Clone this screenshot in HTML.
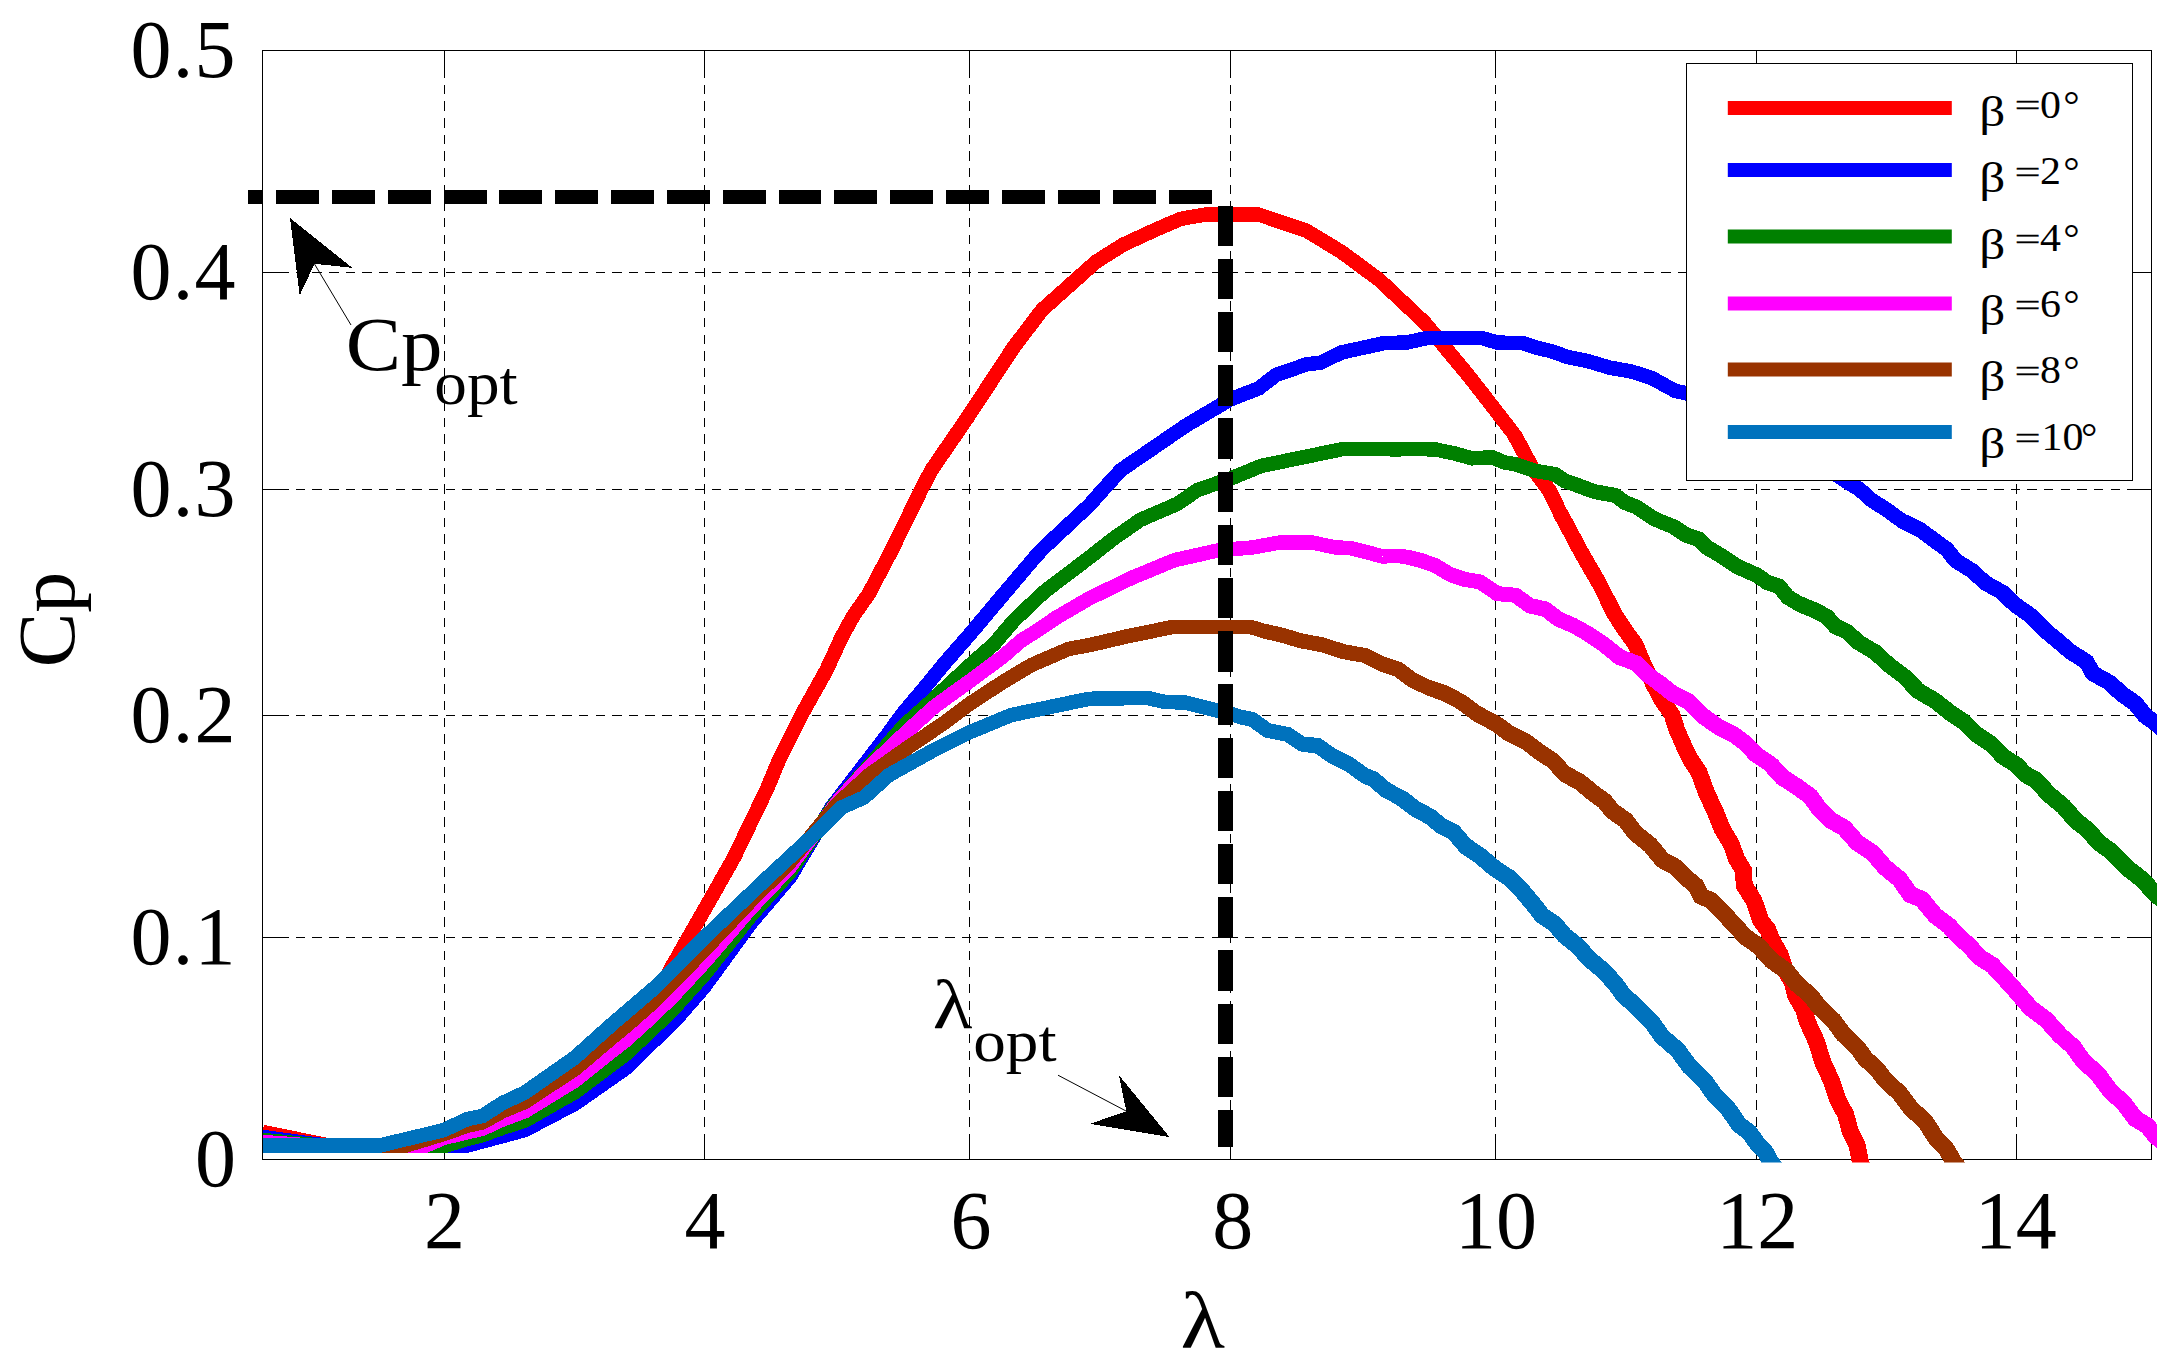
<!DOCTYPE html>
<html lang="en"><head><meta charset="utf-8"><title>Cp - lambda curves</title>
<style>html,body{margin:0;padding:0;background:#fff}svg{display:block}text{font-family:"Liberation Serif","DejaVu Serif",serif;fill:#000}.ax{stroke:#000;stroke-width:1;fill:none;shape-rendering:crispEdges}.gr{stroke:#000;stroke-width:1;fill:none;stroke-dasharray:9.4 7.25;shape-rendering:crispEdges}.cv{fill:none;stroke-width:14.5;stroke-linejoin:miter;stroke-linecap:butt;shape-rendering:crispEdges}.tk{font-size:82px}.lg{font-size:39px}</style></head><body>
<svg width="2182" height="1364" viewBox="0 0 2182 1364">
<rect x="0" y="0" width="2182" height="1364" fill="#fff"/>
<defs><clipPath id="cp"><rect x="263.0" y="40" width="1894.0" height="1122.5"/></clipPath></defs>
<g class="gr">
<line x1="444.5" y1="51.5" x2="444.5" y2="1159.5"/>
<line x1="704.5" y1="51.5" x2="704.5" y2="1159.5"/>
<line x1="969.5" y1="51.5" x2="969.5" y2="1159.5"/>
<line x1="1230.5" y1="51.5" x2="1230.5" y2="1159.5"/>
<line x1="1495.5" y1="51.5" x2="1495.5" y2="1159.5"/>
<line x1="1756.5" y1="51.5" x2="1756.5" y2="1159.5"/>
<line x1="2016.5" y1="51.5" x2="2016.5" y2="1159.5"/>
<line x1="262.5" y1="272.5" x2="2151.5" y2="272.5"/>
<line x1="262.5" y1="489.5" x2="2151.5" y2="489.5"/>
<line x1="262.5" y1="715.5" x2="2151.5" y2="715.5"/>
<line x1="262.5" y1="937.5" x2="2151.5" y2="937.5"/>
</g>
<g class="ax">
<rect x="262.5" y="50.5" width="1889.0" height="1109.0"/>
<line x1="444.5" y1="1159.5" x2="444.5" y2="1137.5"/>
<line x1="444.5" y1="50.5" x2="444.5" y2="68.5"/>
<line x1="704.5" y1="1159.5" x2="704.5" y2="1137.5"/>
<line x1="704.5" y1="50.5" x2="704.5" y2="68.5"/>
<line x1="969.5" y1="1159.5" x2="969.5" y2="1137.5"/>
<line x1="969.5" y1="50.5" x2="969.5" y2="68.5"/>
<line x1="1230.5" y1="1159.5" x2="1230.5" y2="1137.5"/>
<line x1="1230.5" y1="50.5" x2="1230.5" y2="68.5"/>
<line x1="1495.5" y1="1159.5" x2="1495.5" y2="1137.5"/>
<line x1="1495.5" y1="50.5" x2="1495.5" y2="68.5"/>
<line x1="1756.5" y1="1159.5" x2="1756.5" y2="1137.5"/>
<line x1="1756.5" y1="50.5" x2="1756.5" y2="68.5"/>
<line x1="2016.5" y1="1159.5" x2="2016.5" y2="1137.5"/>
<line x1="2016.5" y1="50.5" x2="2016.5" y2="68.5"/>
<line x1="262.5" y1="272.5" x2="282.5" y2="272.5"/>
<line x1="2151.5" y1="272.5" x2="2131.5" y2="272.5"/>
<line x1="262.5" y1="489.5" x2="282.5" y2="489.5"/>
<line x1="2151.5" y1="489.5" x2="2131.5" y2="489.5"/>
<line x1="262.5" y1="715.5" x2="282.5" y2="715.5"/>
<line x1="2151.5" y1="715.5" x2="2131.5" y2="715.5"/>
<line x1="262.5" y1="937.5" x2="282.5" y2="937.5"/>
<line x1="2151.5" y1="937.5" x2="2131.5" y2="937.5"/>
</g>
<g clip-path="url(#cp)" class="cv">
<g stroke="#ff0000">
<path stroke-width="14.5" d="M262.5 1132.0 L278.8 1135.3 L295.0 1138.6 L311.2 1141.9 L327.5 1145.2 L347.5 1145.2 L367.5 1145.1 L387.5 1145.1 L407.5 1145.1 L427.5 1145.1 L447.5 1145.0 L467.5 1145.0 L486.7 1139.7 L505.8 1134.3 L525.0 1129.0 L541.7 1119.3 L558.3 1109.7 L575.0 1100.0 L587.5 1089.0 L600.0 1078.0 L612.5 1064.0 L625.0 1050.0 L633.3 1036.0 L641.7 1022.0 L650.0 1008.0 L660.0 989.0 L670.0 970.0 L678.6 955.0 L687.1 940.0 L695.7 925.0 L704.2 910.0 L714.2 892.5 L724.1 875.0 L734.0 857.5 L741.5 841.9 L749.0 826.3 L756.5 810.8 L761.5 800.4 L766.5 790.0 L772.8 775.0 L779.0 760.0 L786.5 745.0 L794.0 730.0 L801.5 715.0 L809.8 700.0 L818.2 685.0 L826.5 670.0 L833.9 654.0 L841.2 638.0 L847.2 627.0 L853.3 616.0 L861.0 605.0 L868.7 594.0 L876.4 579.3 L884.1 564.7 L891.8 550.0 L899.2 534.8 L906.6 519.6 L914.1 504.4 L921.5 489.2 L931.5 470.0 L943.5 452.5 L955.5 435.0 L967.5 417.5 L979.0 400.0 L990.5 382.5 L1002.0 365.0 L1013.5 347.5 L1023.0 335.0 L1032.5 322.5 L1042.0 310.0 L1055.5 297.9 L1069.0 285.9 L1082.5 273.8 L1096.0 261.8 L1109.8 253.1 L1123.5 244.5 L1139.8 237.0 L1156.0 229.5 L1168.5 224.1 L1181.0 218.8 L1193.5 216.6 L1206.0 214.5 L1223.5 214.5 L1241.0 214.5 L1258.5 214.5 L1274.3 219.8 L1290.2 225.2 L1306.0 230.5 L1323.8 241.2 L1341.5 252.0 L1354.2 261.3 L1366.8 270.7 L1379.5 280.0 L1394.5 294.2 L1409.5 308.3 L1424.5 322.5 L1435.4 335.6 L1446.2 348.8 L1457.1 361.9 L1468.0 375.0 L1477.1 386.7 L1486.2 398.3 L1495.2 410.0 L1504.9 422.5 L1514.5 435.0 L1523.2 451.2 L1532.0 467.5"/>
<path stroke-width="15.0" d="M1514.5 435.0 L1523.2 451.2 L1532.0 467.5 L1540.8 479.1 L1549.5 490.8 L1554.8 501.6 L1560.0 512.5 L1570.0 531.2 L1580.0 550.0"/>
<path stroke-width="15.5" d="M1560.0 512.5 L1570.0 531.2 L1580.0 550.0 L1590.0 567.5 L1600.1 585.0 L1607.4 600.0 L1615.1 614.9 L1625.1 630.1"/>
<path stroke-width="16.0" d="M1607.4 600.0 L1615.1 614.9 L1625.1 630.1 L1635.7 644.9 L1643.5 663.8 L1652.4 682.3 L1661.4 699.0 L1672.0 714.8"/>
<path stroke-width="16.5" d="M1652.4 682.3 L1661.4 699.0 L1672.0 714.8 L1677.0 730.1 L1683.4 744.8 L1690.2 759.1 L1699.0 772.3 L1706.4 792.6"/>
<path stroke-width="17.0" d="M1690.2 759.1 L1699.0 772.3 L1706.4 792.6 L1715.5 812.3 L1722.2 829.1 L1731.6 844.7 L1736.2 858.4 L1743.6 870.8 L1744.2 885.3 L1753.9 900.6 L1760.7 920.4 L1767.8 929.7 L1772.0 940.5 L1780.2 954.7 L1785.1 970.4 L1792.1 981.5 L1795.8 995.9 L1803.3 1008.7 L1807.8 1022.8 L1816.7 1042.2 L1822.9 1062.7 L1831.6 1081.0 L1837.9 1100.2 L1845.7 1114.6 L1849.9 1130.4 L1857.0 1145.2 L1860.2 1161.2 L1865.3 1174.3"/>
</g>
<g stroke="#0000ff">
<path stroke-width="14.5" d="M262.5 1137.0 L283.3 1139.8 L304.2 1142.7 L325.0 1145.5 L345.4 1145.5 L365.7 1145.5 L386.1 1145.5 L406.4 1145.5 L426.8 1145.5 L447.1 1145.5 L467.5 1145.5 L486.7 1140.3 L505.8 1135.2 L525.0 1130.0 L541.7 1121.2 L558.3 1112.5 L575.0 1103.8 L591.7 1092.1 L608.3 1080.4 L625.0 1068.8 L637.5 1056.7 L650.0 1044.6 L662.5 1032.6 L675.0 1020.5 L684.8 1009.3 L694.5 998.2 L704.2 987.0 L715.7 971.2 L727.1 955.5 L738.6 939.8 L750.0 924.0 L763.3 908.3 L776.7 892.7 L790.0 877.0 L800.4 859.6 L810.8 842.2 L821.1 824.9 L831.5 807.5 L844.0 791.2 L856.5 775.0 L866.5 762.0 L876.5 749.0 L886.5 736.0 L895.2 724.0 L904.0 712.0 L915.0 699.0 L926.0 686.0 L935.0 675.0 L944.0 664.0 L956.6 649.5 L969.3 635.0 L979.8 622.5 L990.3 610.0 L1000.8 597.5 L1012.5 583.7 L1024.3 569.8 L1036.0 556.0 L1044.0 547.5 L1059.2 533.3 L1074.3 519.2 L1089.5 505.0 L1102.0 490.8 L1111.5 480.4 L1121.0 470.0 L1137.2 458.9 L1153.5 447.8 L1169.8 436.6 L1186.0 425.5 L1200.7 416.8 L1215.3 408.2 L1230.0 399.5 L1244.2 394.0 L1258.5 388.5 L1267.2 381.8 L1276.0 375.0 L1291.0 369.8 L1306.0 364.5 L1321.0 362.5 L1331.2 357.5 L1341.5 352.5 L1355.8 349.3 L1370.2 346.2 L1384.5 343.0 L1395.8 342.8 L1407.0 342.5 L1427.0 338.0 L1445.3 338.0 L1463.7 338.0 L1482.0 338.1 L1497.0 342.4 L1509.5 343.0 L1522.0 342.8 L1536.9 347.7 L1552.1 351.4 L1566.8 356.8 L1588.3 361.2 L1609.3 367.6 L1631.0 371.4 L1651.8 378.0 L1665.0 385.3 L1675.2 390.9 L1686.8 393.2 L1704.3 404.4 L1723.7 411.9 L1741.2 423.3 L1760.3 431.4 L1776.7 442.5 L1794.9 450.3"/>
<path stroke-width="15.0" d="M1760.3 431.4 L1776.7 442.5 L1794.9 450.3 L1811.2 461.5 L1829.3 469.5 L1845.5 480.8 L1859.7 489.5 L1872.2 500.6 L1886.3 509.5 L1902.1 521.0 L1919.7 529.4 L1935.3 541.0"/>
<path stroke-width="15.5" d="M1902.1 521.0 L1919.7 529.4 L1935.3 541.0 L1946.7 549.3 L1955.6 560.5 L1971.6 570.5 L1985.6 583.0 L2001.8 592.1 L2015.2 604.7 L2031.5 616.3"/>
<path stroke-width="16.0" d="M2001.8 592.1 L2015.2 604.7 L2031.5 616.3 L2045.4 630.7 L2056.4 639.6 L2070.6 651.8 L2086.6 661.9 L2092.8 673.3 L2109.0 682.4 L2122.8 694.6 L2135.4 703.4"/>
<path stroke-width="16.5" d="M2109.0 682.4 L2122.8 694.6 L2135.4 703.4 L2144.9 715.5 L2157.5 724.5 L2167.2 734.5"/>
</g>
<g stroke="#008000">
<path stroke-width="14.5" d="M262.5 1140.0 L281.7 1141.8 L300.8 1143.7 L320.0 1145.5 L341.0 1145.5 L362.0 1145.5 L383.0 1145.5 L404.0 1145.5 L425.0 1145.5 L446.0 1145.5 L456.8 1142.2 L467.5 1138.9 L482.5 1135.1 L502.5 1127.8 L513.8 1124.2 L525.0 1120.6 L541.7 1111.1 L558.3 1101.7 L575.0 1092.2 L587.5 1082.8 L600.0 1073.4 L612.5 1064.1 L625.0 1054.8 L640.0 1040.8 L655.0 1026.7 L665.0 1017.0 L675.0 1007.2 L689.5 991.1 L704.0 975.0 L715.5 960.4 L727.0 945.8 L738.5 931.2 L750.0 916.6 L763.3 901.7 L776.7 886.8 L790.0 872.0 L801.0 855.2 L812.0 838.5 L823.0 821.7 L834.0 805.0 L845.7 792.0 L857.3 779.0 L869.0 766.0 L880.7 752.5 L892.3 739.0 L904.0 725.5 L917.8 713.2 L931.5 701.0 L944.0 689.3 L956.5 677.7 L969.0 666.0 L981.5 655.0 L994.0 644.0 L1004.0 632.2 L1014.0 620.5 L1029.0 606.2 L1044.0 592.0 L1059.3 580.3 L1074.7 568.7 L1090.0 557.0 L1102.5 547.2 L1115.0 537.5 L1127.5 528.8 L1140.0 520.0 L1158.8 511.9 L1177.5 503.8 L1187.5 496.9 L1197.5 490.0 L1213.8 484.4 L1230.0 478.8 L1245.5 472.4 L1261.0 466.0 L1281.2 461.8 L1301.5 457.6 L1321.8 453.4 L1342.0 449.2 L1360.8 449.2 L1379.5 449.2 L1398.2 449.3 L1417.0 449.0 L1435.7 449.5 L1454.0 453.3 L1472.0 458.3 L1492.1 457.3 L1504.3 462.3 L1517.2 464.8 L1535.6 471.0 L1554.8 474.2 L1564.2 480.6 L1574.7 484.3"/>
<path stroke-width="15.0" d="M1554.8 474.2 L1564.2 480.6 L1574.7 484.3 L1594.5 491.6 L1615.2 495.4 L1625.1 502.6 L1636.5 507.0 L1654.2 518.8 L1673.8 526.9 L1685.5 534.8 L1699.0 539.2"/>
<path stroke-width="15.5" d="M1673.8 526.9 L1685.5 534.8 L1699.0 539.2 L1708.0 548.1 L1718.9 554.4 L1737.1 566.4 L1757.0 575.3 L1767.2 582.4 L1779.2 586.5 L1787.8 597.1 L1799.1 603.9 L1815.7 610.8 L1826.6 616.7"/>
<path stroke-width="16.0" d="M1799.1 603.9 L1815.7 610.8 L1826.6 616.7 L1835.3 626.0 L1847.7 632.1 L1857.5 641.7 L1874.8 652.0 L1889.6 665.5 L1904.9 676.8 L1917.9 690.7 L1935.1 700.8"/>
<path stroke-width="16.5" d="M1904.9 676.8 L1917.9 690.7 L1935.1 700.8 L1950.6 713.1 L1964.9 722.6 L1977.1 734.8 L1991.5 744.4 L2002.8 756.3 L2016.7 765.1 L2025.4 774.3 L2036.4 780.5 L2048.9 794.4"/>
<path stroke-width="17.0" d="M2025.4 774.3 L2036.4 780.5 L2048.9 794.4 L2063.4 806.3 L2075.6 820.4 L2088.2 830.3 L2098.6 842.5 L2111.6 851.8 L2125.9 866.8 L2142.2 879.6 L2156.2 894.9 L2167.4 903.4"/>
</g>
<g stroke="#ff00ff">
<path stroke-width="14.5" d="M262.5 1142.0 L278.3 1143.2 L294.2 1144.3 L310.0 1145.5 L329.3 1145.5 L348.7 1145.5 L368.0 1145.5 L387.3 1145.5 L406.7 1145.5 L426.0 1145.5 L444.0 1137.8 L455.8 1135.0 L467.5 1132.2 L482.5 1128.7 L492.5 1124.1 L502.5 1119.5 L513.8 1115.4 L525.0 1111.2 L541.7 1101.0 L558.3 1090.8 L575.0 1080.6 L587.5 1070.6 L600.0 1060.6 L612.5 1050.6 L625.0 1040.9 L640.0 1027.3 L655.0 1013.6 L665.0 1003.8 L675.0 993.9 L689.5 978.3 L704.0 962.6 L715.5 949.3 L727.0 935.9 L738.5 922.5 L750.0 909.1 L763.3 895.1 L776.7 881.0 L790.0 866.9 L802.2 850.2 L814.5 833.5 L826.8 816.7 L839.0 800.0 L849.0 789.2 L859.0 778.3 L869.0 767.5 L881.5 755.7 L894.0 743.8 L906.5 732.0 L920.2 719.5 L934.0 707.0 L951.6 694.2 L969.3 681.5 L986.1 669.0 L1003.0 656.5 L1012.5 648.2 L1022.0 640.0 L1036.0 631.5 L1046.2 624.5 L1056.5 617.5 L1073.2 607.8 L1090.0 598.0 L1104.2 591.2 L1118.3 584.3 L1132.5 577.5 L1146.7 571.7 L1160.8 565.8 L1175.0 560.0 L1190.0 556.7 L1205.0 553.3 L1220.0 550.0 L1236.2 548.8 L1252.5 547.5 L1266.2 545.0 L1280.0 542.5 L1296.2 542.5 L1312.5 542.5 L1323.7 545.0 L1335.0 547.4 L1350.0 548.1 L1366.3 552.0 L1382.5 556.5 L1393.8 555.8 L1404.9 556.6 L1420.1 560.2 L1434.8 565.3"/>
<path stroke-width="15.0" d="M1404.9 556.6 L1420.1 560.2 L1434.8 565.3 L1450.2 574.5 L1464.8 579.4 L1480.2 582.0 L1497.1 593.6 L1515.4 595.2 L1529.7 605.6 L1545.4 609.2"/>
<path stroke-width="15.5" d="M1515.4 595.2 L1529.7 605.6 L1545.4 609.2 L1558.2 619.0 L1573.0 625.3 L1587.1 633.2 L1603.3 644.0 L1619.5 657.1"/>
<path stroke-width="16.0" d="M1587.1 633.2 L1603.3 644.0 L1619.5 657.1 L1636.4 663.4 L1646.9 674.2 L1659.0 682.8 L1672.8 693.7 L1688.6 701.7"/>
<path stroke-width="16.5" d="M1659.0 682.8 L1672.8 693.7 L1688.6 701.7 L1702.9 715.9 L1719.2 727.4 L1733.2 734.2 L1745.4 743.2 L1755.9 754.4 L1770.4 764.1 L1782.1 777.1 L1796.7 786.5"/>
<path stroke-width="17.0" d="M1770.4 764.1 L1782.1 777.1 L1796.7 786.5 L1810.5 796.5 L1819.4 809.2 L1830.6 820.1 L1844.3 828.0 L1856.9 842.3 L1872.7 853.0 L1885.1 867.4 L1899.5 879.2 L1910.3 894.5 L1921.7 899.2 L1935.4 915.7 L1948.9 925.8 L1960.4 938.1 L1969.1 945.6 L1979.4 957.2 L1992.5 965.4 L2003.1 976.7 L2016.7 991.9 L2030.1 1007.6 L2046.6 1020.2 L2060.4 1035.6 L2073.1 1046.7 L2082.9 1060.6 L2098.0 1074.3 L2110.2 1090.7 L2123.9 1103.4 L2135.1 1118.4 L2147.3 1125.8 L2156.2 1136.9 L2167.5 1145.3"/>
</g>
<g stroke="#993300">
<path stroke-width="14.5" d="M262.5 1145.5 L283.0 1145.5 L303.5 1145.5 L324.0 1145.5 L344.5 1145.5 L365.0 1145.5 L385.5 1145.5 L406.0 1145.5 L425.0 1139.7 L444.0 1133.9 L455.8 1129.8 L467.5 1125.6 L482.5 1122.4 L492.5 1116.8 L502.5 1111.3 L513.8 1106.6 L525.0 1101.9 L541.7 1090.9 L558.3 1080.0 L575.0 1069.1 L587.5 1058.4 L600.0 1047.8 L612.5 1037.2 L625.0 1027.0 L640.0 1013.8 L655.0 1000.6 L665.0 990.6 L675.0 980.6 L689.5 965.5 L704.0 950.3 L715.5 938.2 L727.0 926.0 L738.5 913.9 L750.0 901.7 L763.3 888.4 L776.7 875.2 L790.0 861.9 L801.6 847.7 L813.2 833.4 L824.9 819.2 L836.5 805.0 L847.3 795.0 L858.2 785.0 L869.0 775.0 L881.5 766.2 L894.0 757.3 L906.5 748.5 L919.0 740.0 L931.5 731.5 L944.0 723.0 L956.6 713.5 L969.3 704.0 L986.1 693.0 L1003.0 682.0 L1017.2 673.5 L1031.5 665.0 L1050.2 656.9 L1069.0 648.8 L1090.0 645.0 L1108.8 640.6 L1127.5 636.2 L1142.5 633.2 L1157.5 630.1 L1172.5 627.0 L1191.9 627.0 L1211.2 627.0 L1230.6 627.1 L1250.0 626.8 L1264.9 631.3 L1280.1 634.7 L1301.1 640.8"/>
<path stroke-width="15.0" d="M1264.9 631.3 L1280.1 634.7 L1301.1 640.8 L1322.7 644.9 L1343.6 651.7 L1365.2 655.5 L1381.1 663.6 L1397.9 669.2"/>
<path stroke-width="15.5" d="M1365.2 655.5 L1381.1 663.6 L1397.9 669.2 L1412.2 679.9 L1428.0 687.5 L1444.7 693.2 L1462.0 702.4"/>
<path stroke-width="16.0" d="M1428.0 687.5 L1444.7 693.2 L1462.0 702.4 L1477.7 714.3 L1495.3 723.2 L1509.5 733.7"/>
<path stroke-width="16.5" d="M1477.7 714.3 L1495.3 723.2 L1509.5 733.7 L1525.5 741.3 L1539.4 752.0 L1553.2 761.0 L1564.3 773.4 L1580.4 782.5 L1594.5 794.1"/>
<path stroke-width="17.0" d="M1564.3 773.4 L1580.4 782.5 L1594.5 794.1 L1604.5 801.2 L1612.1 810.9 L1625.4 820.1 L1635.1 832.9 L1650.1 844.9 L1662.3 859.8 L1676.2 867.5 L1687.3 878.7 L1695.8 885.8 L1701.1 895.9 L1711.7 901.0 L1722.2 911.7 L1732.9 923.2 L1745.3 936.8 L1758.7 946.3 L1771.3 960.3 L1786.8 971.2 L1797.2 984.3 L1810.0 995.0 L1820.2 1008.2 L1833.3 1020.3 L1843.7 1034.7 L1856.8 1046.8 L1865.5 1058.8 L1876.5 1068.7 L1885.5 1080.4 L1899.6 1093.2 L1911.0 1108.4 L1925.4 1121.8 L1936.0 1138.3 L1946.1 1148.8 L1953.5 1161.4 L1962.2 1172.3"/>
</g>
<g stroke="#0072bd">
<path stroke-width="14.5" d="M262.5 1145.5 L282.1 1145.5 L301.7 1145.5 L321.2 1145.5 L340.8 1145.5 L360.4 1145.5 L380.0 1145.5 L401.3 1140.3 L422.7 1135.2 L444.0 1130.0 L455.8 1124.5 L467.5 1119.0 L482.5 1116.0 L492.5 1109.5 L502.5 1103.0 L513.8 1097.8 L525.0 1092.5 L541.7 1080.8 L558.3 1069.2 L575.0 1057.5 L587.5 1046.2 L600.0 1035.0 L612.5 1023.8 L626.7 1011.7 L640.8 999.6 L655.0 987.5 L667.2 975.1 L679.5 962.8 L691.8 950.4 L704.0 938.0 L719.2 923.5 L734.5 909.0 L749.8 894.5 L765.0 880.0 L778.5 867.5 L792.0 855.0 L805.5 842.5 L819.0 830.0 L830.2 818.8 L841.5 807.5 L852.8 802.5 L864.0 797.5 L876.5 786.2 L889.0 775.0 L904.0 766.7 L919.0 758.3 L934.0 750.0 L951.5 741.2 L969.0 732.5 L983.2 726.7 L997.3 720.8 L1011.5 715.0 L1031.0 710.9 L1050.5 706.9 L1070.0 702.8 L1089.5 698.8 L1108.8 698.5 L1128.2 698.2 L1147.5 698.0 L1165.0 702.0 L1185.0 702.5 L1200.0 706.2 L1215.0 710.1 L1230.0 713.6 L1241.2 717.1 L1252.7 719.6 L1267.3 730.4"/>
<path stroke-width="15.0" d="M1241.2 717.1 L1252.7 719.6 L1267.3 730.4 L1287.7 734.5 L1302.4 744.1 L1317.7 745.7 L1333.0 756.4"/>
<path stroke-width="15.5" d="M1302.4 744.1 L1317.7 745.7 L1333.0 756.4 L1349.6 764.7 L1364.7 775.6 L1373.1 779.0 L1386.3 790.2"/>
<path stroke-width="16.0" d="M1364.7 775.6 L1373.1 779.0 L1386.3 790.2 L1401.6 798.3 L1415.3 808.7 L1430.4 816.9"/>
<path stroke-width="16.5" d="M1401.6 798.3 L1415.3 808.7 L1430.4 816.9 L1440.8 825.6 L1453.2 831.6 L1465.4 845.9 L1480.8 856.5 L1494.6 868.3"/>
<path stroke-width="17.0" d="M1465.4 845.9 L1480.8 856.5 L1494.6 868.3 L1509.5 878.0 L1521.9 890.5 L1533.3 904.3 L1542.5 915.9 L1554.9 924.2 L1564.5 935.6 L1578.0 946.3 L1589.5 959.3 L1602.9 970.2 L1614.5 982.9 L1623.1 994.5 L1637.5 1008.0 L1651.1 1021.3 L1662.2 1036.7 L1677.7 1050.1 L1689.7 1066.7 L1703.8 1079.8 L1714.9 1095.5 L1728.3 1109.1 L1739.1 1124.8 L1749.5 1132.5 L1756.8 1143.1 L1764.9 1151.3 L1770.2 1161.6 L1779.3 1172.3"/>
</g>
</g>
<line x1="1212" y1="196.9" x2="248" y2="196.9" stroke="#000" stroke-width="13.8" stroke-dasharray="42.9 12.9" shape-rendering="crispEdges"/>
<line x1="1225.3" y1="205.5" x2="1225.3" y2="1147" stroke="#000" stroke-width="14.8" stroke-dasharray="40.4 12.8" shape-rendering="crispEdges"/>
<polygon points="290,218 352.2,267.8 314.5,263.8 299.7,295.4" fill="#000" shape-rendering="crispEdges"/>
<line x1="314.5" y1="264" x2="351" y2="325" stroke="#000" stroke-width="1"/>
<polygon points="1169.5,1137 1118.8,1075 1126.3,1111.3 1090,1123.8" fill="#000" shape-rendering="crispEdges"/>
<line x1="1058" y1="1075.2" x2="1126" y2="1111" stroke="#000" stroke-width="1"/>
<text transform="translate(345.68,369.79) scale(1.0885,1)" font-size="76.29">Cp</text>
<text transform="translate(434.25,404.37) scale(1.0728,1)" font-size="60.84">opt</text>
<text transform="translate(932.86,1027.70) scale(1.1597,1)" font-size="70.50">λ</text>
<text transform="translate(973.26,1061.21) scale(1.0829,1)" font-size="60.19">opt</text>
<rect x="1686.5" y="63.5" width="446.0" height="417.0" fill="#fff" stroke="#000" stroke-width="1" shape-rendering="crispEdges"/>
<g class="ax"><line x1="2132" y1="272.5" x2="2151.5" y2="272.5"/></g>
<line x1="1727.8" y1="108" x2="1951.8" y2="108" stroke="#ff0000" stroke-width="14.2"/>
<text transform="translate(1979.3,125.8) scale(1.21,1)" font-size="42.3">β</text>
<text transform="translate(2014.7,116.3) scale(1.17,0.8)" font-size="39" stroke="#000" stroke-width="0.5">=</text>
<text transform="translate(2039.9,117.9) scale(1.04,1)" font-size="40.3">0</text>
<text x="2063.3" y="118.9" font-size="41">°</text>
<line x1="1727.8" y1="170" x2="1951.8" y2="170" stroke="#0000ff" stroke-width="14.2"/>
<text transform="translate(1979.3,192.3) scale(1.21,1)" font-size="42.3">β</text>
<text transform="translate(2014.7,182.8) scale(1.17,0.8)" font-size="39" stroke="#000" stroke-width="0.5">=</text>
<text transform="translate(2039.9,184.4) scale(1.04,1)" font-size="40.3">2</text>
<text x="2063.3" y="185.4" font-size="41">°</text>
<line x1="1727.8" y1="236.5" x2="1951.8" y2="236.5" stroke="#008000" stroke-width="14.2"/>
<text transform="translate(1979.3,259.3) scale(1.21,1)" font-size="42.3">β</text>
<text transform="translate(2014.7,249.8) scale(1.17,0.8)" font-size="39" stroke="#000" stroke-width="0.5">=</text>
<text transform="translate(2039.9,251.4) scale(1.04,1)" font-size="40.3">4</text>
<text x="2063.3" y="252.4" font-size="41">°</text>
<line x1="1727.8" y1="303.5" x2="1951.8" y2="303.5" stroke="#ff00ff" stroke-width="14.2"/>
<text transform="translate(1979.3,325.3) scale(1.21,1)" font-size="42.3">β</text>
<text transform="translate(2014.7,315.8) scale(1.17,0.8)" font-size="39" stroke="#000" stroke-width="0.5">=</text>
<text transform="translate(2039.9,317.4) scale(1.04,1)" font-size="40.3">6</text>
<text x="2063.3" y="318.4" font-size="41">°</text>
<line x1="1727.8" y1="369.5" x2="1951.8" y2="369.5" stroke="#993300" stroke-width="14.2"/>
<text transform="translate(1979.3,391.3) scale(1.21,1)" font-size="42.3">β</text>
<text transform="translate(2014.7,381.8) scale(1.17,0.8)" font-size="39" stroke="#000" stroke-width="0.5">=</text>
<text transform="translate(2039.9,383.4) scale(1.04,1)" font-size="40.3">8</text>
<text x="2063.3" y="384.4" font-size="41">°</text>
<line x1="1727.8" y1="432" x2="1951.8" y2="432" stroke="#0072bd" stroke-width="14.2"/>
<text transform="translate(1979.3,458.3) scale(1.21,1)" font-size="42.3">β</text>
<text transform="translate(2014.7,448.8) scale(1.17,0.8)" font-size="39" stroke="#000" stroke-width="0.5">=</text>
<text transform="translate(2041.5,450.4) scale(1.04,1)" font-size="40.3">10</text>
<text x="2081" y="451.4" font-size="41">°</text>
<text class="tk" x="236.6" y="77.0" text-anchor="end" letter-spacing="1.2">0.5</text>
<text class="tk" x="236.6" y="299.0" text-anchor="end" letter-spacing="1.2">0.4</text>
<text class="tk" x="236.6" y="516.0" text-anchor="end" letter-spacing="1.2">0.3</text>
<text class="tk" x="236.6" y="742.0" text-anchor="end" letter-spacing="1.2">0.2</text>
<text class="tk" x="236.6" y="964.0" text-anchor="end" letter-spacing="1.2">0.1</text>
<text class="tk" x="236" y="1185.5" text-anchor="end">0</text>
<text class="tk" x="444.5" y="1247.6" text-anchor="middle">2</text>
<text class="tk" x="705.0" y="1247.6" text-anchor="middle">4</text>
<text class="tk" x="971.0" y="1247.6" text-anchor="middle">6</text>
<text class="tk" x="1232.8" y="1247.6" text-anchor="middle">8</text>
<text class="tk" x="1496.0" y="1247.6" text-anchor="middle">10</text>
<text class="tk" x="1757.3" y="1247.6" text-anchor="middle">12</text>
<text class="tk" x="2015.8" y="1247.6" text-anchor="middle">14</text>
<text transform="translate(1180.41,1348.00) scale(1.1497,1)" font-size="79.72">λ</text>
<text transform="translate(74.38,667.27) rotate(-90) scale(1.0157,1)" font-size="80.57">Cp</text>
</svg></body></html>
